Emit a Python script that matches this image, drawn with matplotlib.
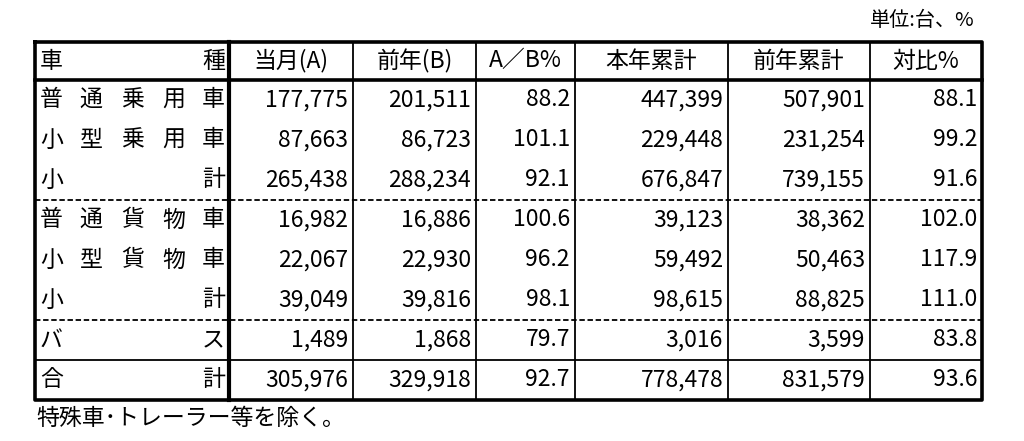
import matplotlib
matplotlib.use("Agg")
import matplotlib.pyplot as plt

plt.rcParams['font.family'] = ['Noto Sans CJK JP', 'DejaVu Sans']

headers = ["当月(A)", "前年(B)", "A／B%", "本年累計", "前年累計", "対比%"]
row_labels = ["普通乗用車", "小型乗用車", "小計", "普通貨物車", "小型貨物車", "小計", "バス", "合計"]
current = ["177,775", "87,663", "265,438", "16,982", "22,067", "39,049", "1,489", "305,976"]
prev = ["201,511", "86,723", "288,234", "16,886", "22,930", "39,816", "1,868", "329,918"]
ratio = ["88.2", "101.1", "92.1", "100.6", "96.2", "98.1", "79.7", "92.7"]
ytd = ["447,399", "229,448", "676,847", "39,123", "59,492", "98,615", "3,016", "778,478"]
prev_ytd = ["507,901", "231,254", "739,155", "38,362", "50,463", "88,825", "3,599", "831,579"]
comp = ["88.1", "99.2", "91.6", "102.0", "117.9", "111.0", "83.8", "93.6"]

W, H = 1024, 441
fig = plt.figure(figsize=(W/100, H/100), dpi=100)
ax = fig.add_axes([0, 0, 1, 1])
ax.set_xlim(0, W); ax.set_ylim(H, 0); ax.axis('off')

xs = [35, 229, 353, 476, 575, 728, 870, 982]
top, hb = 42, 80
rh = 40
bottom = hb + rh*8
fs = 16.5
k = dict(color='black')

# header
ax.text(40, (top+hb)/2, "車", fontsize=fs, va='center', ha='left')
ax.text(225, (top+hb)/2, "種", fontsize=fs, va='center', ha='right')
for i, h in enumerate(headers):
    ax.text((xs[i+1]+xs[i+2])/2, (top+hb)/2, h, fontsize=fs, va='center', ha='center')

cols = [current, prev, ratio, ytd, prev_ytd, comp]
for r, lab in enumerate(row_labels):
    yc = hb + rh*r + rh/2
    n = len(lab)
    for j, ch in enumerate(lab):
        if j == 0:
            p, ha = 40, 'left'
        elif j == n-1:
            p, ha = 225, 'right'
        else:
            p, ha = 50 + j*((215)-(50))/(n-1), 'center'
        ax.text(p, yc, ch, fontsize=fs, va='center', ha=ha)
    for c, col in enumerate(cols):
        ax.text(xs[c+2]-5, yc, col[r], fontsize=fs, va='center', ha='right')

# lines
for x in xs[2:-1]:
    ax.plot([x, x], [top, bottom], lw=1.3, **k)
ax.plot([xs[1], xs[1]], [top, bottom], lw=3, **k)
ax.plot([xs[0], xs[-1], xs[-1], xs[0], xs[0]], [top, top, bottom, bottom, top], lw=2.6, **k)
ax.plot([xs[0], xs[-1]], [hb, hb], lw=2.6, **k)
for yy in [hb+rh*3, hb+rh*6]:
    ax.plot([xs[0], xs[-1]], [yy, yy], lw=1.3, ls=(0, (3, 1.5)), **k)
ax.plot([xs[0], xs[-1]], [hb+rh*7, hb+rh*7], lw=1.3, **k)

ax.text(975, 20, "単位:台、%", fontsize=14.5, va='center', ha='right')
ax.text(36, 418, "特殊車･トレーラー等を除く。", fontsize=fs, va='center', ha='left')

fig.savefig("out.png", dpi=100)
